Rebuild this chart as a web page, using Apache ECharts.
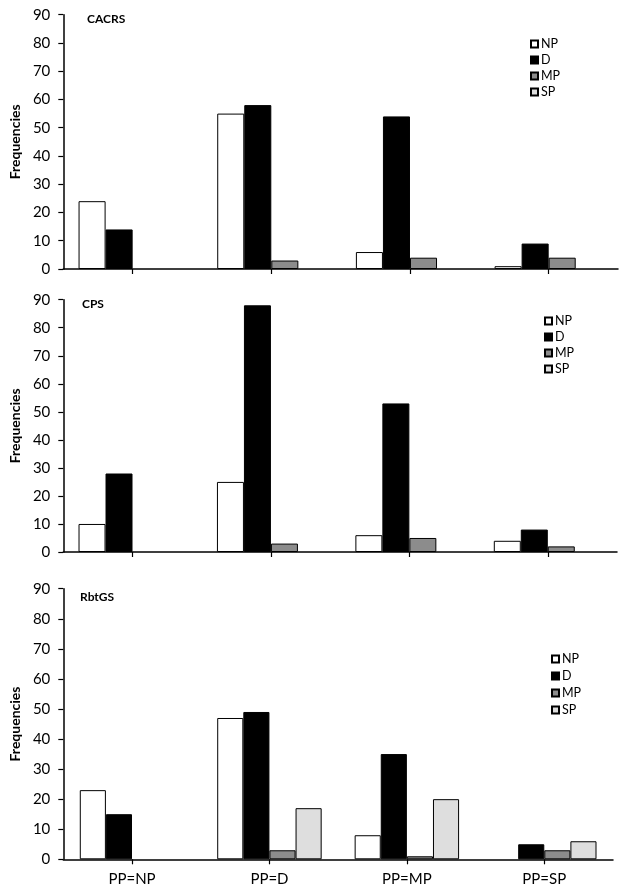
<!DOCTYPE html>
<html>
<head>
<meta charset="utf-8">
<script src="https://cdn.jsdelivr.net/npm/echarts@6/dist/echarts.min.js"></script>
<style>
html,body{margin:0;padding:0;background:#fff;}
#chart{width:625px;height:894px;}
</style>
</head>
<body>
<div id="chart"></div>
<script>
// ---- data ----
var categories = ['PP=NP', 'PP=D', 'PP=MP', 'PP=SP'];
var seriesNames = ['NP', 'D', 'MP', 'SP'];
var panelTitles = ['CACRS', 'CPS', 'RbtGS'];

var cacrsNP = [24, 55, 6, 1];
var cacrsD  = [14, 58, 54, 9];
var cacrsMP = [0, 3, 4, 4];
var cacrsSP = [0, 0, 0, 0];

var cpsNP = [10, 25, 6, 4];
var cpsD  = [28, 88, 53, 8];
var cpsMP = [0, 3, 5, 2];
var cpsSP = [0, 0, 0, 0];

var rbtgsNP = [23, 47, 8, 0];
var rbtgsD  = [15, 49, 35, 5];
var rbtgsMP = [0, 3, 1, 3];
var rbtgsSP = [0, 17, 20, 6];

var yMin = 0, yMax = 90, yStep = 10;
var yAxisName = 'Frequencies';

// ---- styling / layout ----
var FONT = 'Lato, "Open Sans", sans-serif';
var fills = { NP: '#ffffff', D: '#000000', MP: '#8c8c8c', SP: '#dedede' };
var panelData = [
  [cacrsNP, cacrsD, cacrsMP, cacrsSP],
  [cpsNP, cpsD, cpsMP, cpsSP],
  [rbtgsNP, rbtgsD, rbtgsMP, rbtgsSP]
];
var grids = [
  { left: 61, right: 7, top: 14.7, height: 254.3 },
  { left: 61, right: 8, top: 299.7, height: 252.3 },
  { left: 61, right: 12, top: 588.7, height: 270.6 }
];
var legendPos = [
  { left: 530, top: 37, gap: 2 },
  { left: 544, top: 314, gap: 2 },
  { left: 551, top: 652, gap: 3 }
];
var titlePos = [
  { left: 87, top: 13 },
  { left: 82, top: 298 },
  { left: 80, top: 591 }
];
var catGap = ['22%', '22%', '24%'];

var option = {
  animation: false,
  backgroundColor: '#ffffff',
  textStyle: { fontFamily: FONT },
  title: panelTitles.map(function (t, i) {
    return {
      text: t, left: titlePos[i].left, top: titlePos[i].top, padding: 0,
      textStyle: { fontFamily: FONT, fontSize: 12, fontWeight: 'bold', color: '#000' }
    };
  }),
  legend: legendPos.map(function (p) {
    return {
      data: seriesNames, orient: 'vertical', left: p.left, top: p.top, padding: 0,
      itemWidth: 7, itemHeight: 7, itemGap: p.gap, icon: 'rect',
      selectedMode: false,
      textStyle: { fontFamily: FONT, fontSize: 12.5, color: '#000', lineHeight: 14, padding: [0, 0, 0, -2] }
    };
  }),
  grid: grids.map(function (g) {
    return { left: g.left, right: g.right, top: g.top, height: g.height, containLabel: false };
  }),
  xAxis: grids.map(function (g, i) {
    return {
      type: 'category', gridIndex: i, data: categories,
      axisLine: { show: true, lineStyle: { color: '#000', width: 1.5 } },
      axisTick: { show: true, alignWithLabel: true, length: 5, lineStyle: { color: '#000', width: 1.2 } },
      axisLabel: { show: i === 2, fontFamily: FONT, fontSize: 15, color: '#000', margin: 12 },
      splitLine: { show: false }
    };
  }),
  yAxis: grids.map(function (g, i) {
    return {
      type: 'value', gridIndex: i, min: yMin, max: yMax, interval: yStep,
      name: yAxisName, nameLocation: 'middle', nameGap: 41,
      nameTextStyle: { fontFamily: FONT, fontSize: 14, fontWeight: 'bold', color: '#000' },
      axisLine: { show: true, lineStyle: { color: '#000', width: 1.5 } },
      axisTick: { show: true, length: 5, lineStyle: { color: '#000', width: 1.2 } },
      axisLabel: { fontFamily: FONT, fontSize: 15, color: '#000', margin: 13 },
      splitLine: { show: false }
    };
  }),
  series: []
};

panelData.forEach(function (arrs, pi) {
  arrs.forEach(function (vals, si) {
    var name = seriesNames[si];
    option.series.push({
      type: 'bar', name: name, xAxisIndex: pi, yAxisIndex: pi,
      data: vals.map(function (v) {
        return v === 0 ? { value: v, itemStyle: { borderWidth: 0 } } : v;
      }),
      barGap: '0%', barCategoryGap: catGap[pi],
      itemStyle: { color: fills[name], borderColor: '#000', borderWidth: 1 },
      emphasis: { disabled: true }
    });
  });
});

var chart = echarts.init(document.getElementById('chart'), null, { renderer: 'canvas' });
chart.setOption(option);
</script>
</body>
</html>
